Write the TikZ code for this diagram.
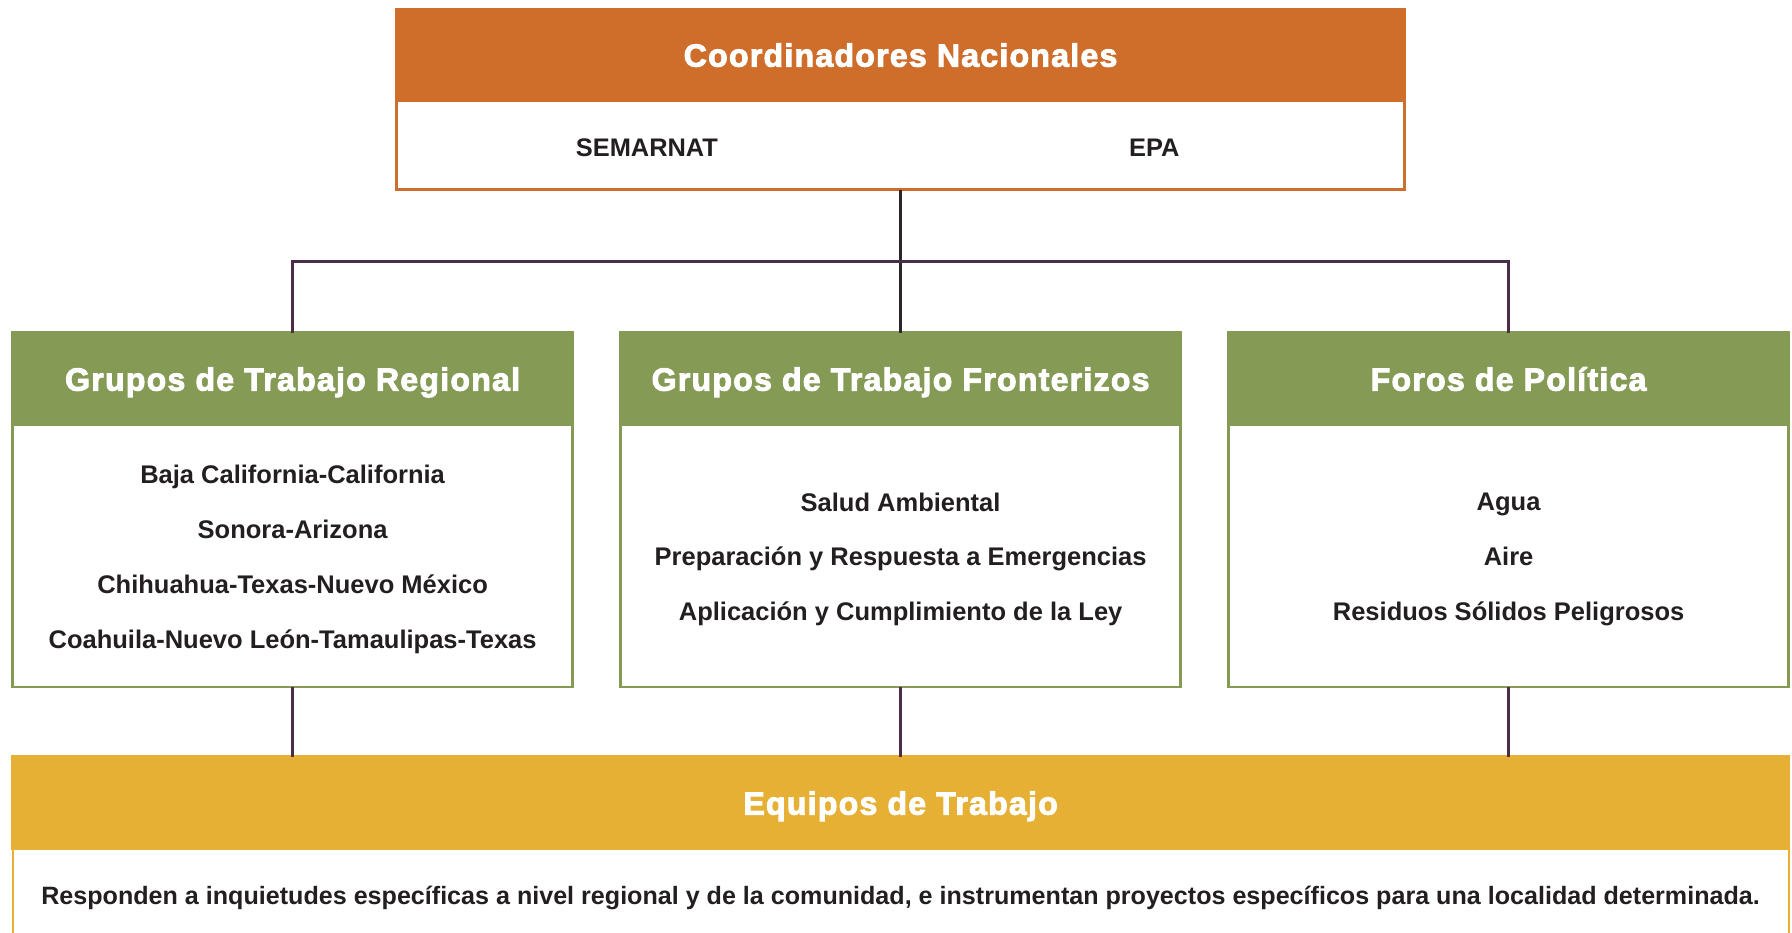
\documentclass[tikz,border=0pt]{standalone}
\usepackage{fontspec}
\setmainfont{Liberation Sans}
\newfontfamily\headfont[LetterSpace=4,BoldFeatures={FakeBold=3}]{Liberation Sans}
\definecolor{orng}{HTML}{CF6D2B}
\definecolor{grn}{HTML}{849A55}
\definecolor{yell}{HTML}{E5B033}
\definecolor{linec}{HTML}{4B2D45}
\definecolor{topline}{HTML}{2A2629}
\definecolor{txt}{HTML}{231F20}
\begin{document}
\begin{tikzpicture}[x=1pt,y=-1pt,
  hdr/.style={anchor=north west, inner sep=0pt, outer sep=0pt, text=white, line width=2.5pt,
    text height=23.5pt, text depth=0pt,
    font=\headfont\bfseries\fontsize{32}{40}\selectfont},
  bod/.style={anchor=north west, inner sep=0pt, outer sep=0pt, fill=white, line width=2.5pt},
  list/.style={inner sep=0pt, text=txt, align=center, font=\bfseries\fontsize{25.5}{54.9}\selectfont},
  item/.style={inner sep=0pt, text=txt, font=\bfseries\fontsize{25.4}{30}\selectfont},
  conn/.style={line width=3pt, draw=linec}]
\clip (0,0) rectangle (1792,933);
\fill[white] (0,0) rectangle (1792,933);

% top box
\node[hdr, fill=orng, draw=orng, minimum width=1008, minimum height=91.5] (coordH) at (396.6,9.1) {Coordinadores Nacionales};
\node[bod, draw=orng, minimum width=1008, minimum height=89.1] (coordB) at (396.6,100.6) {};
\node[item] (semarnat) at ([xshift=-253.7pt,yshift=-2.3pt]coordB.center) {SEMARNAT};
\node[item] (epa) at ([xshift=253.7pt,yshift=-2.3pt]coordB.center) {EPA};

% green boxes
\node[hdr, fill=grn, draw=grn, minimum width=560, minimum height=92.5] (regH) at (12.6,332.6) {Grupos de Trabajo Regional};
\node[bod, draw=grn, minimum width=560, minimum height=261.8] (regB) at (12.6,425.1) {};
\node[list] (regL) at ([yshift=-3.4pt]regB.center)
  {Baja California-California\\Sonora-Arizona\\Chihuahua-Texas-Nuevo México\\Coahuila-Nuevo León-Tamaulipas-Texas};

\node[hdr, fill=grn, draw=grn, minimum width=560, minimum height=92.5] (fronH) at (620.6,332.6) {Grupos de Trabajo Fronterizos};
\node[bod, draw=grn, minimum width=560, minimum height=261.8] (fronB) at (620.6,425.1) {};
\node[list] (fronL) at ([yshift=-3.4pt]fronB.center)
  {Salud Ambiental\\Preparación y Respuesta a Emergencias\\Aplicación y Cumplimiento de la Ley};

\node[hdr, fill=grn, draw=grn, minimum width=560, minimum height=92.5] (polH) at (1228.6,332.6) {Foros de Política};
\node[bod, draw=grn, minimum width=560, minimum height=261.8] (polB) at (1228.6,425.1) {};
\node[list] (polL) at ([yshift=-3.4pt]polB.center)
  {Agua\\Aire\\Residuos Sólidos Peligrosos};

% yellow box
\node[hdr, fill=yell, draw=yell, minimum width=1776, minimum height=92.5] (eqH) at (12.6,756.6) {Equipos de Trabajo};
\node[bod, draw=yell, line width=2pt, minimum width=1776, minimum height=91.6] (eqB) at (12.6,849.1) {};
\node[item, font=\bfseries\fontsize{25.1}{30}\selectfont] (eqL) at ([yshift=-3.4pt]eqB.center)
  {Responden a inquietudes específicas a nivel regional y de la comunidad, e instrumentan proyectos específicos para una localidad determinada.};

% connectors
\coordinate (bus) at (900.6,261.7);
\draw[conn, draw=topline] (coordB.south) -- (fronH.north);
\draw[conn] (regH.north) |- (bus) -| (polH.north);
\draw[conn] (regB.south) -- (regB.south |- eqH.north);
\draw[conn] (fronB.south) -- (fronB.south |- eqH.north);
\draw[conn] (polB.south) -- (polB.south |- eqH.north);
\end{tikzpicture}
\end{document}
